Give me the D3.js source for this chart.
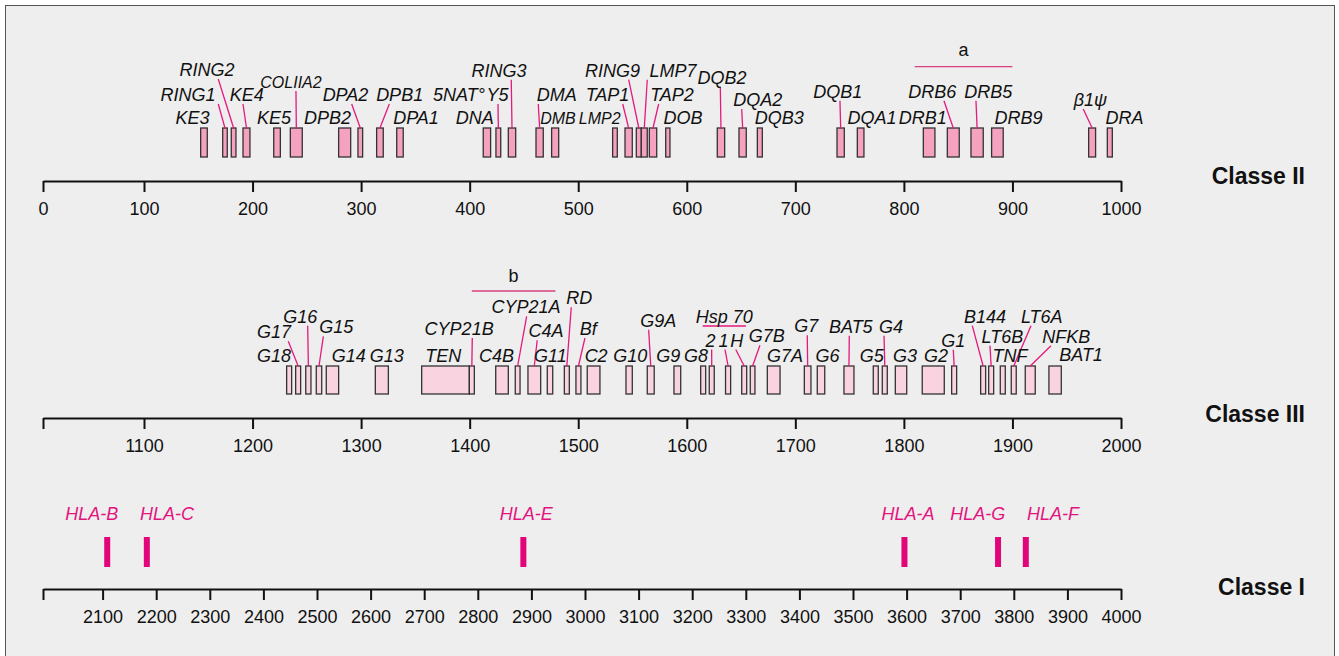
<!DOCTYPE html>
<html>
<head>
<meta charset="utf-8">
<script src="https://cdn.jsdelivr.net/npm/d3@7"></script>
<style>
  body { margin: 0; background: #ffffff; }
  svg text { font-family: "Liberation Sans", Arial, Helvetica, sans-serif; }
</style>
</head>
<body>
<svg id="chart" width="1339" height="656"></svg>
<script>
"use strict";

// Classe II genes (positions in kb)
const class2Genes = ["KE3", "RING1", "RING2", "KE4", "KE5", "COLIIA2", "DPB2", "DPA2", "DPB1", "DPA1",
  "5NAT°", "DNA", "Y5", "RING3", "DMA", "DMB", "LMP2", "TAP1", "RING9", "LMP7", "TAP2", "DOB",
  "DQB2", "DQA2", "DQB3", "DQB1", "DQA1", "DRB1", "DRB6", "DRB5", "DRB9", "β1ψ", "DRA"];
const class2Start = [152.2, 172.5, 180.4, 191.2, 219.5, 234.8, 279.3, 297.1, 314.3, 332.8,
  null, 412.5, 424.2, 435.6, 461.1, 475.5, 531.7, 543.1, 553.5, 558.1, 565.5, 580.6,
  628.1, 648.1, 665.0, 738.4, 757.1, 817.9, 840.0, 861.8, 880.8, 970.2, 987.4];
const class2End = [158.3, 176.7, 184.7, 197.6, 225.6, 245.8, 290.4, 301.4, 320.4, 338.8,
  null, 419.3, 428.6, 442.4, 467.8, 482.0, 536.0, 549.8, 558.1, 563.6, 572.3, 584.5,
  634.9, 654.8, 669.6, 745.1, 763.2, 828.6, 851.0, 873.1, 891.5, 976.6, 992.0];

// Classe III genes
const class3Genes = ["G18", "G17", "G16", "G15", "G14", "G13", "TEN", "CYP21B", "C4B", "CYP21A",
  "C4A", "G11", "RD", "Bf", "C2", "G10", "G9A", "G9", "G8", "2", "1", "H", "G7B", "G7A", "G7",
  "G6", "BAT5", "G5", "G4", "G3", "G2", "G1", "B144", "LT6B", "TNF", "LT6A", "NFKB", "BAT1"];
const class3Start = [1231.4, 1239.7, 1249.0, 1258.7, 1267.9, 1313.1, 1355.8, 1399.7, 1424.0, 1442.0,
  1453.7, 1471.5, 1487.2, 1497.9, 1508.3, 1544.0, 1563.6, 1588.2, 1612.8, 1620.7, 1635.7, 1650.6,
  1658.5, 1674.2, 1708.3, 1720.2, 1744.8, 1771.8, 1780.1, 1792.1, 1816.9, 1844.0, 1870.7, 1878.1,
  1888.8, 1898.9, 1911.8, 1933.6];
const class3End = [1236.0, 1244.3, 1253.8, 1263.7, 1279.3, 1325.1, 1399.7, 1404.3, 1435.6, 1446.4,
  1465.4, 1476.5, 1491.8, 1502.5, 1520.0, 1549.8, 1570.0, 1594.4, 1617.4, 1625.3, 1640.4, 1655.2,
  1662.8, 1685.9, 1714.4, 1727.1, 1754.0, 1776.4, 1784.7, 1802.6, 1837.2, 1848.6, 1875.3, 1882.7,
  1893.4, 1903.5, 1921.0, 1945.0];

// Classe I genes
const class1Genes = ["HLA-B", "HLA-C", "HLA-E", "HLA-A", "HLA-G", "HLA-F"];
const class1Pos = [2108.6, 2182.5, 2885.0, 3596.0, 3770.6, 3822.4];

const class2Ticks = d3.range(0, 1001, 100);
const class3Ticks = d3.range(1000, 2001, 100);
const class1Ticks = d3.range(2000, 4001, 100);

// grouped regions drawn as a line with a label
const bracketNames = ["a", "b", "Hsp 70"];
const bracketFrom = [810, 1402, 1614.6];
const bracketTo = [900, 1479, 1654.5];

// label placement: [label centre kb, baseline y, leader start kb]
const labels2 = {
  KE3: [144.7, 124], RING1: [140.5, 101, 168.4], RING2: [158.0, 76, 168.4], KE4: [194.6, 101, 191.2],
  KE5: [219.7, 124], COLIIA2: [235.4, 88, 240.0], DPB2: [269.0, 124], DPA2: [285.6, 101, 291.3],
  DPB1: [335.5, 101, 326.0], DPA1: [350.6, 124], "5NAT°": [390.2, 101], DNA: [404.6, 124],
  Y5: [425.6, 101, 426.1], RING3: [427.0, 76.7, 438.3], DMA: [480.2, 101, 463.2], DMB: [481.4, 124],
  LMP2: [519.8, 124], TAP1: [527.0, 101, 541.0], RING9: [531.6, 76.7, 546.5], LMP7: [587.3, 76.7, 563.6],
  TAP2: [586.4, 101, 574.1], DOB: [596.5, 124], DQB2: [632.4, 84.3, 630.9], DQA2: [665.3, 106, 650.6],
  DQB3: [685.2, 124], DQB1: [739.2, 97.7, 741.1], DQA1: [770.7, 124], DRB1: [817.4, 124],
  DRB6: [826.1, 97.7, 836.9], DRB5: [877.7, 97.7, 866.4], DRB9: [905.7, 124],
  "β1ψ": [971.9, 106, 965.2], DRA: [1003.3, 124]
};
const labels3 = {
  G18: [1219.7, 361.7], G17: [1219.7, 338.3, 1232.9], G16: [1244.0, 322.7, 1250.8],
  G15: [1277.1, 333.3, 1265.2], G14: [1288.7, 361.7], G13: [1323.6, 361.7], TEN: [1375.7, 361.7],
  CYP21B: [1390.3, 335, 1402.4], C4B: [1424.7, 361.7], CYP21A: [1451.9, 313.3, 1452.5],
  C4A: [1470.3, 337.3, 1462.2], G11: [1474.4, 361.7], RD: [1501.0, 304.3, 1493.6],
  Bf: [1509.3, 335, 1506.2], C2: [1516.5, 361.7], G10: [1548.0, 361.7], G9A: [1573.7, 326.7, 1564.9],
  G9: [1583.0, 361.7], G8: [1608.5, 361.7], "2": [1621.8, 346.5, 1622.9], "1": [1633.8, 346.5, 1635.2],
  H: [1646.0, 346.5, 1645.1], G7B: [1673.6, 342.3, 1667.4], G7A: [1690.5, 361.7],
  G7: [1710.0, 332.3, 1711.0], G6: [1729.6, 361.7], BAT5: [1751.1, 332.7, 1749.7], G5: [1770.3, 361.7],
  G4: [1788.1, 332.7, 1781.7], G3: [1801.0, 361.7], G2: [1829.7, 361.7], G1: [1845.5, 346.7, 1845.5],
  B144: [1874.7, 322.7, 1863.0], LT6B: [1890.8, 342.7, 1879.3], TNF: [1897.7, 361.7],
  LT6A: [1927.0, 322.7, 1917.1], NFKB: [1949.5, 342.7, 1935.5], BAT1: [1963.2, 361]
};
const labels1 = {
  "HLA-B": 2081.9, "HLA-C": 2220.0, "HLA-E": 2890.3, "HLA-A": 3602.6, "HLA-G": 3732.8, "HLA-F": 3873.1
};
const smallLabels = ["COLIIA2", "DMB", "LMP2"];

const pink = "#e6197d";
const svg = d3.select("#chart");

svg.append("rect")
  .attr("x", 5.5).attr("y", 5.5)
  .attr("width", 1329).attr("height", 700)
  .attr("fill", "#eeeeee")
  .attr("stroke", "#555").attr("stroke-width", 1);

const drawAxis = (x, ticks, axisY, hideFirst) => {
  const axis = d3.axisBottom(x)
    .tickValues(ticks)
    .tickSize(11)
    .tickSizeOuter(0)
    .tickPadding(10)
    .tickFormat((d, i) => (hideFirst && i === 0 ? "" : d));
  const g = svg.append("g").attr("transform", `translate(0,${axisY})`).call(axis);
  g.select(".domain").attr("stroke", "#111").attr("stroke-width", 2);
  g.selectAll(".tick line").attr("stroke", "#111").attr("stroke-width", 2);
  g.selectAll(".tick text")
    .attr("fill", "#111")
    .style("font-size", "18px")
    .style("font-family", "'Liberation Sans', Arial, sans-serif");
};

const drawGenes = (p) => {
  const x = p.x;
  const idx = d3.range(p.genes.length);

  svg.append("g").selectAll("rect")
    .data(idx.filter((i) => p.start[i] !== null))
    .enter()
    .append("rect")
    .attr("x", (i) => x(p.start[i]))
    .attr("y", p.boxTop)
    .attr("width", (i) => x(p.end[i]) - x(p.start[i]))
    .attr("height", p.boxH)
    .attr("fill", p.fill)
    .attr("stroke", "#333")
    .attr("stroke-width", 1.3);

  // leader lines
  svg.append("g").selectAll("line")
    .data(idx.filter((i) => p.labels[p.genes[i]][2] !== undefined))
    .enter()
    .append("line")
    .attr("x1", (i) => x(p.labels[p.genes[i]][2]))
    .attr("y1", (i) => p.labels[p.genes[i]][1] + 3)
    .attr("x2", (i) => x((p.start[i] + p.end[i]) / 2))
    .attr("y2", p.boxTop)
    .attr("stroke", pink)
    .attr("stroke-width", 1.3);

  svg.append("g").selectAll("text")
    .data(idx)
    .enter()
    .append("text")
    .attr("x", (i) => x(p.labels[p.genes[i]][0]))
    .attr("y", (i) => p.labels[p.genes[i]][1])
    .attr("text-anchor", "middle")
    .attr("fill", "#111")
    .style("font-style", "italic")
    .style("font-size", (i) => (smallLabels.includes(p.genes[i]) ? "16px" : "18px"))
    .text((i) => p.genes[i]);

  svg.append("text")
    .attr("x", 1305)
    .attr("y", p.titleY)
    .attr("text-anchor", "end")
    .attr("fill", "#111")
    .style("font-weight", "bold")
    .style("font-size", "23px")
    .text(p.title);

  drawAxis(x, p.ticks, p.axisY, p.hideFirst);
};

const x2 = d3.scaleLinear().domain([0, 100, 1000]).range([43, 144, 1121]);
const x3 = d3.scaleLinear().domain([1000, 1100, 2000]).range([43, 144, 1121]);
const x1 = d3.scaleLinear().domain([2000, 2100, 4000]).range([43, 102.6, 1121]);

drawGenes({
  genes: class2Genes, start: class2Start, end: class2End, labels: labels2, x: x2,
  ticks: class2Ticks, axisY: 181, boxTop: 128, boxH: 29, fill: "#f4a2bf",
  title: "Classe II", titleY: 184, hideFirst: false
});
drawGenes({
  genes: class3Genes, start: class3Start, end: class3End, labels: labels3, x: x3,
  ticks: class3Ticks, axisY: 418, boxTop: 366, boxH: 28, fill: "#f9d3df",
  title: "Classe III", titleY: 422, hideFirst: true
});

// brackets: a (classe II), b and Hsp 70 (classe III)
const bracketScale = [x2, x3, x3];
const bracketY = [66.7, 291, 326];
const bracketTextY = [56, 281.7, 322.7];
bracketNames.forEach((name, i) => {
  const x = bracketScale[i];
  svg.append("line")
    .attr("x1", x(bracketFrom[i])).attr("x2", x(bracketTo[i]))
    .attr("y1", bracketY[i]).attr("y2", bracketY[i])
    .attr("stroke", name === "Hsp 70" ? pink : "#d8407f")
    .attr("stroke-width", 1.3);
  svg.append("text")
    .attr("x", x((bracketFrom[i] + bracketTo[i]) / 2))
    .attr("y", bracketTextY[i])
    .attr("text-anchor", "middle")
    .attr("fill", "#111")
    .style("font-size", "18px")
    .style("font-style", name === "Hsp 70" ? "italic" : "normal")
    .text(name);
});

// Classe I
svg.append("g").selectAll("rect")
  .data(class1Pos)
  .enter()
  .append("rect")
  .attr("x", (d) => x1(d) - 3)
  .attr("y", 537)
  .attr("width", 6)
  .attr("height", 30)
  .attr("fill", "#e2057a");

svg.append("g").selectAll("text")
  .data(class1Genes)
  .enter()
  .append("text")
  .attr("x", (d) => x1(labels1[d]))
  .attr("y", 520)
  .attr("text-anchor", "middle")
  .attr("fill", "#e2157f")
  .style("font-style", "italic")
  .style("font-size", "18px")
  .text((d) => d);

svg.append("text")
  .attr("x", 1305)
  .attr("y", 595)
  .attr("text-anchor", "end")
  .attr("fill", "#111")
  .style("font-weight", "bold")
  .style("font-size", "23px")
  .text("Classe I");

drawAxis(x1, class1Ticks, 589, true);
</script>
</body>
</html>
